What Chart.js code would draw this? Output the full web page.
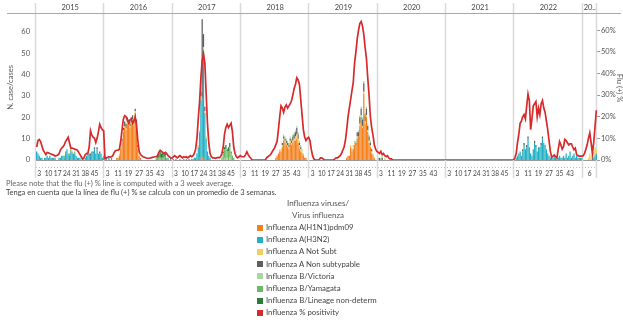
<!DOCTYPE html>
<html>
<head>
<meta charset="utf-8">
<script src="https://cdn.jsdelivr.net/npm/chart.js@4.4.1/dist/chart.umd.min.js"></script>
<style>
  html, body { margin: 0; padding: 0; background: #fff; }
  body { width: 623px; height: 322px; position: relative; overflow: hidden; font-family: Lato, "Open Sans", sans-serif; }
  #wrap { position: absolute; left: 0; top: 0; width: 623px; height: 180px; }
  .note { position: absolute; left: 6px; font-size: 7.5px; line-height: 9px; white-space: nowrap; }
  .lg-title { position: absolute; left: 218px; width: 200px; text-align: center; font-size: 8px; line-height: 10px; color: #555; }
  .lg-item { position: absolute; left: 257px; font-size: 7.8px; line-height: 10px; color: #444; white-space: nowrap; }
  .lg-item i { display: inline-block; width: 6px; height: 6px; margin-right: 3px; vertical-align: -0.5px; }
</style>
</head>
<body>
<div id="wrap"><canvas id="flu"></canvas></div>
<div class="note" style="top:179px;color:#666">Please note that the flu (+) % line is computed with a 3 week average.</div>
<div class="note" style="top:188px;color:#444">Tenga en cuenta que la línea de flu (+) % se calcula con un promedio de 3 semanas.</div>
<div id="legend"></div>
<script>
// Epidemiological weeks per year panel
const years = [2015, 2016, 2017, 2018, 2019, 2020, 2021, 2022, 2023];
const yearLabels = ['2015', '2016', '2017', '2018', '2019', '2020', '2021', '2022', '20..'];
const weeksPerYear = [52, 52, 52, 52, 52, 52, 52, 52, 11];

// Week numbers shown under each panel
const weeksA = [3, 10, 17, 24, 31, 38, 45];
const weeksB = [3, 11, 19, 27, 35, 43];
const tickWeeks = [weeksA, weeksB, weeksA, weeksB, weeksA, weeksB, weeksA, weeksB, [6]];

const leftTicks = [0, 10, 20, 30, 40, 50, 60];
const rightTicks = [0, 10, 20, 30, 40, 50, 60];

// Cases per week, as [year, first week, values]
const h1n1 = [
  [2016, 10, [1, 1, 2, 5, 9, 13, 15, 14, 17, 16, 15, 17, 18, 16, 22, 15, 5, 2, 1]],
  [2017, 21, [1, 0, 1, 1]],
  [2018, 27, [1, 2, 3, 4, 4, 6, 9, 8, 7, 6, 5, 8, 7, 8, 9, 9, 10, 8, 5, 4, 3, 2, 1, 1]],
  [2019, 29, [1, 2, 2, 6, 4, 5, 7, 7, 9, 11, 16, 19, 15, 31, 17, 20, 12, 8, 6, 3, 2, 1]]
];
const h3n2 = [
  [2015, 1, [4, 3, 2, 1, 1, 0, 1, 1, 2, 1, 2, 1, 1, 1, 1, 0, 0, 1, 1, 2, 2, 1, 3, 5, 2, 2, 4, 3, 3, 3, 2, 1, 1, 1, 0, 0, 0, 1, 2, 2, 3, 2, 4, 3, 5, 3, 5, 3, 3, 3, 1, 2]],
  [2016, 1, [1, 1, 0, 1, 0, 1]],
  [2016, 47, [1, 0, 1, 0, 1]],
  [2017, 1, [0.5, 0, 0.5, 0, 0, 0.5, 0, 0, 0.5, 0, 0.5, 0, 0.5, 0, 0.5, 0.5, 1, 1, 3, 6, 12, 28, 28, 50, 22, 10, 4, 2, 1]],
  [2019, 37, [1, 0, 0, 1, 0, 0, 0, 0, 1]],
  [2022, 2, [1, 2, 3, 4, 2, 4, 7, 5, 6, 10, 6, 3, 2, 5, 8, 6, 4, 6, 6, 7, 10, 8, 7, 5, 3, 2, 1, 1, 1, 2, 1, 1, 1, 2, 1, 1, 2, 1, 3, 1, 2, 4, 1, 2, 3, 1, 2, 1, 1, 1, 1]],
  [2023, 8, [1, 1, 2, 3]]
];
const aNotSubt = [
  [2016, 12, [1, 1, 0, 1, 1, 1, 1, 1, 1, 1, 1, 1, 1, 2, 1]],
  [2017, 20, [1, 1, 2, 0, 2, 1, 1]],
  [2018, 30, [1, 1, 1, 1, 1, 1, 1, 1, 1, 1, 1, 1, 2, 2, 2, 2, 1, 1]],
  [2019, 32, [1, 0, 1, 1, 0, 1, 0, 1, 1, 1, 1, 1, 1, 1, 1, 1, 1]],
  [2023, 5, [1, 3, 2, 2, 3, 4, 2]]
];
const aNonSubtypable = [
  [2015, 40, [1, 0, 1, 0, 1, 1, 0, 1, 0, 1]],
  [2016, 14, [1, 1, 2, 2, 2, 2, 2, 2, 2, 2, 1, 2, 1]],
  [2017, 22, [2, 37, 6, 2]],
  [2018, 32, [1, 1, 1, 1, 1, 1, 1, 1, 2, 2, 2, 3, 2, 1, 1]],
  [2019, 36, [1, 2, 2, 3, 3, 3, 4, 3, 3, 2, 2, 1, 1]],
  [2020, 2, [1, 0, 1]],
  [2022, 7, [1, 1, 0, 1, 1, 0, 0, 0, 0, 1, 1, 0, 0, 0, 1, 1]]
];
const bVictoria = [
  [2017, 40, [1, 0, 1, 0, 1]],
  [2018, 33, [1, 1, 1, 1, 1, 1, 1, 1, 1, 1, 1, 1, 1, 1, 1, 1]],
  [2019, 33, [1, 1, 1, 1, 0, 1, 1, 1, 1, 1, 1, 1, 1, 1, 1, 0, 1]],
  [2020, 1, [1, 0, 1, 1, 0, 1]]
];
const bYamagata = [
  [2015, 22, [1, 1, 0, 1, 1, 1, 1, 0, 1]],
  [2016, 40, [1, 1, 1, 1, 1, 1, 1, 1, 1]],
  [2017, 38, [1, 3, 4, 5, 3, 4, 5, 3, 2, 1]]
];
const bLineageND = [
  [2016, 41, [1, 2, 3, 2, 3, 2, 1]],
  [2017, 39, [1, 1, 2, 1, 2, 2, 1]]
];

// Flu (+) % by week, 3 week average
const pos2015 = [6, 9, 9.5, 8.5, 6.5, 4.5, 3.5, 2.5, 3.5, 3.3, 3, 2.8, 2.5, 2.3, 1.8, 2, 2.3, 2.8, 4.5, 5.5, 6, 7, 8.5, 9.5, 10.5, 8, 5.5, 5.5, 5.3, 5, 4.8, 4.5, 3.5, 2.5, 1.5, 0.3, 1, 2.5, 3, 3.2, 6, 13.5, 11.5, 10.5, 10, 8, 10, 13, 16.5, 15, 14, 13.5];
const pos2016 = [0.8, 1, 1.2, 1.5, 1.3, 1.5, 2, 3.5, 4.3, 4.5, 4.5, 5, 9, 14, 19, 20.5, 20, 18.5, 17, 18.5, 19, 17, 18, 20, 16, 9, 4, 2.5, 2, 1.5, 1.3, 1, 0.8, 0.8, 0.8, 1, 1.2, 1.3, 1.5, 1.5, 2, 3.5, 4.5, 4, 3.2, 3, 3.5, 3, 2, 1.5, 1, 0.8];
const pos2017 = [1.5, 2, 1.5, 1, 1.5, 2, 1.5, 1, 1.5, 1.2, 1.5, 1, 1.5, 2, 1.5, 2, 3, 5, 10, 19, 27, 38, 46, 49, 45, 31, 17, 8, 3, 1.5, 1, 1, 0.8, 1, 1.2, 1, 1.5, 3, 6, 12, 15, 16.5, 15, 16, 17, 13, 6, 3, 1.5, 1, 1.5, 2];
const pos2018 = [1.5, 1.5, 1.5, 2.5, 3.8, 2.5, 1.5, 0.8, 0, 0, 0, 0, 0, 0, 0, 0, 0, 0, 0, 1, 1.5, 2, 2.5, 3.5, 4.5, 5.5, 7, 8.5, 14, 20, 25, 24, 22, 24.5, 25.5, 24, 25, 26, 27.5, 30, 33, 35, 38, 37, 35, 28, 21, 14, 10.5, 9, 10, 10.5];
const pos2019 = [9, 5, 2, 0.5, 0, 0, 0, 0, 1, 1, 0.5, 0, 0, 0, 0, 0, 0, 0, 0, 0.5, 1, 1, 1.5, 2, 3, 4.5, 6, 9, 14, 20, 24, 28, 32, 36, 45, 50, 56, 60, 63, 64, 62, 58, 52, 47, 38, 30, 20, 15, 11.5, 7, 5, 4];
const pos2020 = [3.5, 3, 4, 2.5, 3, 2, 1.5, 2, 1, 0.5, 0.5, 0, 0, 0, 0, 0, 0, 0, 0, 0, 0, 0, 0, 0, 0, 0, 0, 0, 0, 0, 0, 0, 0, 0, 0, 0, 0, 0, 0, 0, 0, 0, 0, 0, 0, 0, 0, 0, 0, 0, 0, 0];
const pos2021 = [0, 0, 0, 0, 0, 0, 0, 0, 0, 0, 0, 0, 0, 0, 0, 0, 0, 0, 0, 0, 0, 0, 0, 0, 0, 0, 0, 0, 0, 0, 0, 0, 0, 0, 0, 0, 0, 0, 0, 0, 0, 0, 0, 0, 0, 0, 0, 0, 0, 0, 0, 0];
const pos2022 = [1, 3, 8, 12, 17, 18, 20, 21, 19, 25, 30.5, 27.5, 14, 19, 25, 26, 27, 20, 24, 21, 26, 27.5, 24, 22, 18, 14, 9, 4, 1.2, 1.8, 2.3, 1.5, 1, 5, 8.5, 7, 5, 6, 9.5, 9, 8, 7, 7.5, 7.5, 6, 4.8, 5.5, 2.5, 2, 1.8, 1.8, 1.8];
const pos2023 = [2, 3, 5, 7, 10, 12.5, 8, 3, 8, 15.5, 23];

const seriesNames = [
  'Influenza A(H1N1)pdm09', 'Influenza A(H3N2)', 'Influenza A Not Subt', 'Influenza A Non subtypable',
  'Influenza B/Victoria', 'Influenza B/Yamagata', 'Influenza B/Lineage non-determ', 'Influenza % positivity'
];
const seriesColors = ['#f4801e', '#22b0c4', '#f6cd5f', '#5c5e62', '#a9d7a0', '#6db862', '#2d7b38', '#d8292b'];

// category axis: one slot per week
const yearStart = [];
const weekLabels = [];
const tickText = [];
years.forEach((y, k) => {
  yearStart.push(weekLabels.length);
  for (let w = 1; w <= weeksPerYear[k]; w++) {
    weekLabels.push(y + '-W' + w);
    tickText.push(tickWeeks[k].includes(w) ? String(w) : '');
  }
});
const totalWeeks = weekLabels.length;

function placeRuns(runs) {
  const out = new Array(totalWeeks).fill(null);
  runs.forEach(([year, from, vals]) => {
    const base = yearStart[years.indexOf(year)] + from - 1;
    vals.forEach((v, i) => { out[base + i] = v || null; });
  });
  return out;
}

const positivity = [].concat(pos2015, pos2016, pos2017, pos2018, pos2019, pos2020, pos2021, pos2022, pos2023);
const barRuns = [h1n1, h3n2, aNotSubt, aNonSubtypable, bVictoria, bYamagata, bLineageND];

const datasets = barRuns.map((runs, i) => ({
  type: 'bar',
  label: seriesNames[i],
  data: placeRuns(runs),
  backgroundColor: seriesColors[i],
  yAxisID: 'y',
  stack: 'cases',
  order: 1,
  barPercentage: 0.95,
  categoryPercentage: 1
}));
datasets.push({
  type: 'line',
  label: seriesNames[7],
  data: positivity,
  borderColor: seriesColors[7],
  borderWidth: 1.7,
  pointRadius: 0,
  tension: 0,
  yAxisID: 'y1',
  order: 0
});

// year header, panel separators, dotted rule under the axis, right axis title
const panels = {
  id: 'panels',
  beforeDatasetsDraw(chart) {
    const { ctx, chartArea, scales: { x } } = chart;
    const step = x.getPixelForValue(1) - x.getPixelForValue(0);
    const edge = i => x.getPixelForValue(i) - step / 2;
    ctx.save();
    ctx.strokeStyle = '#dadada';
    ctx.lineWidth = 1.5;
    yearStart.concat([totalWeeks]).forEach(i => {
      const px = Math.round(edge(i)) - 0.5;
      ctx.beginPath();
      ctx.moveTo(px, 3);
      ctx.lineTo(px, 178);
      ctx.stroke();
    });
    ctx.strokeStyle = '#a9a9a9';
    ctx.lineWidth = 1;
    ctx.beginPath();
    ctx.moveTo(7, 13.5);
    ctx.lineTo(621, 13.5);
    ctx.stroke();
    ctx.strokeStyle = '#bdbdbd';
    ctx.setLineDash([1, 2]);
    ctx.beginPath();
    ctx.moveTo(chartArea.left, 167.5);
    ctx.lineTo(chartArea.right, 167.5);
    ctx.stroke();
    ctx.setLineDash([]);
    ctx.fillStyle = '#444';
    ctx.font = '7.5px Lato, sans-serif';
    ctx.textAlign = 'center';
    ctx.textBaseline = 'middle';
    years.forEach((y, k) => {
      const a = edge(yearStart[k]);
      const b = edge(yearStart[k] + weeksPerYear[k]);
      ctx.fillText(yearLabels[k], (a + b) / 2, 8);
    });
    ctx.fillStyle = '#555';
    ctx.translate(619, 88);
    ctx.rotate(Math.PI / 2);
    ctx.fillText('Flu (+) %', 0, 0);
    ctx.restore();
  }
};

const tickFont = { family: 'Lato', size: 7.5 };

new Chart(document.getElementById('flu'), {
  data: { labels: weekLabels, datasets },
  plugins: [panels],
  options: {
    responsive: true,
    maintainAspectRatio: false,
    animation: false,
    layout: { padding: { top: 15, left: 0, right: 0, bottom: 0 } },
    plugins: { legend: { display: false }, tooltip: { enabled: false } },
    scales: {
      x: {
        type: 'category',
        stacked: true,
        grid: { display: false, drawTicks: false },
        border: { display: true, color: '#9a9a9a', width: 1 },
        ticks: {
          autoSkip: false, maxRotation: 0, minRotation: 0, padding: 10,
          color: '#444', font: { family: 'Lato', size: 6.6 },
          callback: (v, i) => tickText[i]
        },
        afterFit: s => { s.height = 20; }
      },
      y: {
        position: 'left',
        stacked: true,
        min: 0, max: 68,
        grid: { display: false, drawTicks: false },
        border: { display: false },
        ticks: { color: '#555', font: tickFont, padding: 6 },
        afterBuildTicks: s => { s.ticks = leftTicks.map(v => ({ value: v })); },
        title: { display: true, text: 'N. case/cases', color: '#555', font: { family: 'Lato', size: 7.5 }, padding: { top: 6, bottom: 0 } },
        afterFit: s => { s.width = 36; }
      },
      y1: {
        position: 'right',
        min: 0, max: 67,
        grid: { display: true, drawOnChartArea: false, drawTicks: true, tickLength: 3, color: '#999' },
        border: { display: false },
        ticks: { color: '#555', font: tickFont, padding: 1, callback: v => v + '%' },
        afterBuildTicks: s => { s.ticks = rightTicks.map(v => ({ value: v })); },
        afterFit: s => { s.width = 26; }
      }
    }
  }
});

// legend below the chart
const legend = document.getElementById('legend');
legend.innerHTML =
  '<div class="lg-title" style="top:198px">Influenza viruses/</div>' +
  '<div class="lg-title" style="top:210px">Virus influenza</div>' +
  seriesNames.map((n, i) =>
    '<div class="lg-item" style="top:' + (222 + i * 12.2).toFixed(1) + 'px"><i style="background:' + seriesColors[i] + '"></i>' + n + '</div>'
  ).join('');
</script>
</body>
</html>
